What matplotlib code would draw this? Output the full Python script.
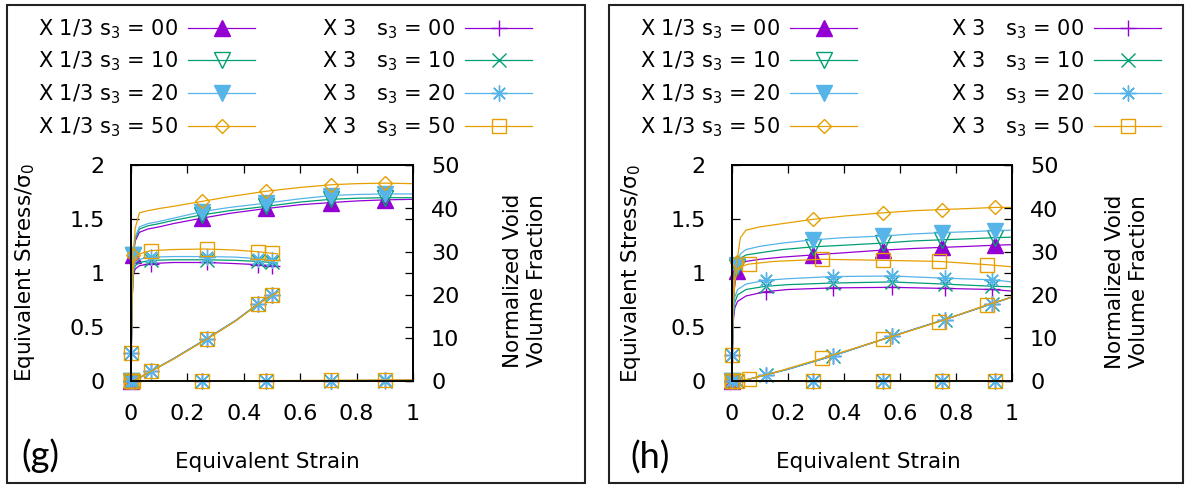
import matplotlib.pyplot as plt
from matplotlib.patches import Rectangle

W, H = 1186, 486

plt.rcParams['font.family'] = ['DejaVu Sans']
plt.rcParams['font.size'] = 15

colors = ['#9400d3', '#009e73', '#56b4e9', '#e69f00']

labels_13 = ['X 1/3 s$_\\mathregular{3}$ = 00', 'X 1/3 s$_\\mathregular{3}$ = 10',
             'X 1/3 s$_\\mathregular{3}$ = 20', 'X 1/3 s$_\\mathregular{3}$ = 50']
labels_3 = ['X 3   s$_\\mathregular{3}$ = 00', 'X 3   s$_\\mathregular{3}$ = 10',
            'X 3   s$_\\mathregular{3}$ = 20', 'X 3   s$_\\mathregular{3}$ = 50']

x_ticks = [0, 0.2, 0.4, 0.6, 0.8, 1]
x_ticklabels = ['0', '0.2', '0.4', '0.6', '0.8', '1']
y_ticks = [0, 0.5, 1, 1.5, 2]
y_ticklabels = ['0', '0.5', '1', '1.5', '2']
y2_ticks = [0, 10, 20, 30, 40, 50]
y2_ticklabels = ['0', '10', '20', '30', '40', '50']

# ---------------- panel (g) ----------------
g_strain_13 = [0, 0.003, 0.008, 0.015, 0.03, 0.06, 0.1, 0.15, 0.25, 0.35, 0.48, 0.6, 0.71, 0.8, 0.9, 1.0]
g_stress_13 = [
    [0, 0.80, 1.17, 1.30, 1.38, 1.41, 1.43, 1.46, 1.51, 1.555, 1.60, 1.635, 1.655, 1.67, 1.68, 1.685],
    [0, 0.82, 1.17, 1.32, 1.41, 1.44, 1.46, 1.49, 1.54, 1.58, 1.62, 1.66, 1.685, 1.695, 1.70, 1.70],
    [0, 0.84, 1.17, 1.34, 1.43, 1.46, 1.48, 1.51, 1.57, 1.61, 1.65, 1.69, 1.72, 1.73, 1.735, 1.735],
    [0, 0.90, 1.17, 1.42, 1.56, 1.58, 1.60, 1.62, 1.665, 1.71, 1.76, 1.795, 1.82, 1.83, 1.835, 1.83],
]
g_void_13 = [
    [0, 0, 0, 0, 0.01, 0.02, 0.03, 0.04, 0.06, 0.08, 0.1, 0.12, 0.14, 0.16, 0.18, 0.2],
    [0, 0, 0, 0, 0.01, 0.02, 0.03, 0.04, 0.06, 0.08, 0.1, 0.12, 0.14, 0.16, 0.18, 0.2],
    [0, 0, 0, 0, 0.01, 0.02, 0.03, 0.05, 0.07, 0.09, 0.12, 0.14, 0.17, 0.19, 0.21, 0.23],
    [0, 0, 0, 0, 0.01, 0.02, 0.04, 0.06, 0.09, 0.12, 0.16, 0.2, 0.24, 0.27, 0.3, 0.33],
]
g_mark_13 = [0, 2, 8, 10, 12, 14]

g_strain_3 = [0, 0.001, 0.004, 0.008, 0.015, 0.03, 0.07, 0.15, 0.27, 0.37, 0.45, 0.50, 0.52]
g_stress_3 = [
    [0, 0.26, 0.75, 0.98, 1.04, 1.07, 1.09, 1.10, 1.10, 1.09, 1.08, 1.07, 1.065],
    [0, 0.26, 0.76, 1.00, 1.07, 1.10, 1.12, 1.125, 1.125, 1.12, 1.11, 1.10, 1.095],
    [0, 0.26, 0.77, 1.02, 1.10, 1.13, 1.15, 1.155, 1.155, 1.15, 1.135, 1.125, 1.12],
    [0, 0.26, 0.80, 1.06, 1.15, 1.18, 1.21, 1.22, 1.225, 1.215, 1.20, 1.185, 1.18],
]
g_void_3 = [
    [0, 0, 0.05, 0.15, 0.35, 0.8, 2.3, 5.2, 9.9, 14.0, 17.9, 20.0, 20.7],
    [0, 0, 0.05, 0.15, 0.35, 0.8, 2.3, 5.2, 9.9, 14.0, 17.9, 20.0, 20.7],
    [0, 0, 0.05, 0.15, 0.35, 0.8, 2.3, 5.2, 9.9, 14.0, 17.9, 20.0, 20.7],
    [0, 0, 0.05, 0.15, 0.35, 0.8, 2.3, 5.1, 9.8, 13.9, 17.8, 19.9, 20.6],
]
g_mark_3 = [0, 1, 6, 8, 10, 11]

# ---------------- panel (h) ----------------
h_strain_13 = [0, 0.003, 0.008, 0.017, 0.03, 0.05, 0.1, 0.18, 0.29, 0.4, 0.54, 0.65, 0.75, 0.85, 0.94, 1.0]
h_stress_13 = [
    [0, 0.55, 0.85, 1.02, 1.08, 1.11, 1.13, 1.15, 1.17, 1.19, 1.215, 1.23, 1.24, 1.25, 1.26, 1.265],
    [0, 0.58, 0.92, 1.06, 1.14, 1.17, 1.19, 1.22, 1.245, 1.26, 1.28, 1.30, 1.31, 1.32, 1.33, 1.335],
    [0, 0.60, 0.95, 1.08, 1.18, 1.22, 1.25, 1.28, 1.31, 1.33, 1.345, 1.365, 1.376, 1.386, 1.395, 1.40],
    [0, 0.65, 1.00, 1.10, 1.33, 1.40, 1.43, 1.46, 1.50, 1.53, 1.56, 1.58, 1.59, 1.60, 1.61, 1.61],
]
h_void_13 = [
    [0, 0, 0, 0, 0.01, 0.01, 0.02, 0.03, 0.04, 0.05, 0.06, 0.07, 0.08, 0.09, 0.1, 0.1],
    [0, 0, 0, 0, 0.01, 0.01, 0.02, 0.03, 0.04, 0.05, 0.06, 0.07, 0.08, 0.09, 0.1, 0.1],
    [0, 0, 0, 0, 0.01, 0.01, 0.02, 0.03, 0.04, 0.05, 0.06, 0.07, 0.08, 0.09, 0.1, 0.11],
    [0, 0, 0, 0, 0.01, 0.01, 0.02, 0.03, 0.05, 0.06, 0.08, 0.09, 0.1, 0.11, 0.12, 0.13],
]
h_mark_13 = [0, 3, 8, 10, 12, 14]

h_strain_3 = [0, 0.001, 0.004, 0.01, 0.02, 0.05, 0.12, 0.2, 0.36, 0.57, 0.76, 0.93, 1.0]
h_strain_3_50 = [0, 0.001, 0.004, 0.01, 0.02, 0.04, 0.06, 0.15, 0.32, 0.54, 0.74, 0.91, 1.0]
h_stress_3 = [
    [0, 0.245, 0.55, 0.68, 0.74, 0.79, 0.83, 0.85, 0.865, 0.87, 0.86, 0.85, 0.835],
    [0, 0.245, 0.58, 0.73, 0.80, 0.85, 0.88, 0.895, 0.91, 0.92, 0.90, 0.88, 0.875],
    [0, 0.245, 0.60, 0.78, 0.85, 0.90, 0.935, 0.95, 0.97, 0.975, 0.955, 0.94, 0.92],
    [0, 0.245, 0.70, 0.92, 1.03, 1.07, 1.085, 1.11, 1.13, 1.12, 1.11, 1.08, 1.06],
]
h_void_3 = [
    [0, 0, 0.02, 0.05, 0.1, 0.3, 1.5, 2.8, 5.9, 10.4, 14.3, 18.0, 19.5],
    [0, 0, 0.02, 0.05, 0.1, 0.3, 1.5, 2.8, 5.9, 10.4, 14.3, 18.0, 19.5],
    [0, 0, 0.02, 0.05, 0.1, 0.3, 1.5, 2.8, 5.9, 10.4, 14.3, 18.0, 19.5],
    [0, 0, 0.02, 0.05, 0.1, 0.25, 0.5, 2.0, 5.3, 9.7, 13.8, 17.7, 19.5],
]
h_mark_3 = [0, 1, 6, 8, 9, 10, 11]

# marker styles: (marker, size, filled)
style_13 = [('^', 11, True), ('v', 11, False), ('v', 11, True), ('D', 7, False)]
style_3 = [('+', 11, False), ('x', 10, False), ((8, 2, 0), 11.5, False), ('s', 9.5, False)]


def mk(i, style):
    m, ms, filled = style[i]
    return dict(color=colors[i], lw=0.9, marker=m, ms=ms, mew=1.0,
                mfc=colors[i] if filled else 'none', mec=colors[i], clip_on=False)


def draw_panel(ax, s13, st13, v13, m13, s3, st3, v3, m3):
    ax2 = ax.twinx()
    handles_13, handles_3 = [], []
    for i in range(4):
        ln, = ax.plot(s13, st13[i], markevery=m13, **mk(i, style_13))
        handles_13.append(ln)
        ax2.plot(s13, v13[i], markevery=m13, **mk(i, style_3))
    for i in range(4):
        ln, = ax.plot(s3[i], st3[i], markevery=m3, **mk(i, style_3))
        handles_3.append(ln)
        ax2.plot(s3[i], v3[i], markevery=m3, **mk(i, style_3))
    ax.set_xlim(0, 1)
    ax.set_ylim(0, 2)
    ax2.set_ylim(0, 50)
    ax.set_xticks(x_ticks, x_ticklabels)
    ax.set_yticks(y_ticks, y_ticklabels)
    ax2.set_yticks(y2_ticks, y2_ticklabels)
    ax.tick_params(axis='x', direction='in', top=True, length=6, width=0.9, pad=16, labelsize=16)
    ax.tick_params(axis='y', direction='in', right=True, length=6, width=0.9, pad=19, labelsize=16)
    ax2.tick_params(axis='y', direction='in', length=6, width=0.9, pad=13, labelsize=16)
    for a in (ax, ax2):
        for sp in a.spines.values():
            sp.set_linewidth(1.3)
    return handles_13 + handles_3


fig = plt.figure(figsize=(W / 100, H / 100), dpi=100)

ax_g = fig.add_axes([131 / W, 1 - 381.3 / H, 282 / W, 216 / H])
ax_h = fig.add_axes([732 / W, 1 - 381.3 / H, 280 / W, 216 / H])

hg = draw_panel(ax_g, g_strain_13, g_stress_13, g_void_13, g_mark_13,
                [g_strain_3] * 4, g_stress_3, g_void_3, g_mark_3)
hh = draw_panel(ax_h, h_strain_13, h_stress_13, h_void_13, h_mark_13,
                [h_strain_3] * 3 + [h_strain_3_50], h_stress_3, h_void_3, h_mark_3)

for handles, x0, colsp in [(hg, 38, 3.2), (hh, 640, 4.5)]:
    fig.legend(handles, labels_13 + labels_3, loc='upper left',
               bbox_to_anchor=(x0 / W, 1 - 17 / H), ncol=2, markerfirst=False,
               frameon=False, fontsize=15, handlelength=3.2, handletextpad=0.5,
               columnspacing=colsp, labelspacing=0.44, borderpad=0, borderaxespad=0)

# axis titles
fig.text(25 / W, 1 - 273 / H, 'Equivalent Stress/σ$_\\mathregular{0}$', rotation=90,
         ha='center', va='center', fontsize=15.5)
fig.text(631 / W, 1 - 274 / H, 'Equivalent Stress/σ$_\\mathregular{0}$', rotation=90,
         ha='center', va='center', fontsize=15.5)
fig.text(525 / W, 1 - 281 / H, 'Normalized Void\nVolume Fraction', rotation=90,
         ha='center', va='center', fontsize=15.5, linespacing=1.25)
fig.text(1127 / W, 1 - 282 / H, 'Normalized Void\nVolume Fraction', rotation=90,
         ha='center', va='center', fontsize=15.5, linespacing=1.25)
fig.text(267 / W, 1 - 462 / H, 'Equivalent Strain', ha='center', va='center', fontsize=15.5)
fig.text(868 / W, 1 - 462 / H, 'Equivalent Strain', ha='center', va='center', fontsize=15.5)
fig.text(40 / W, 1 - 456 / H, '(g)', ha='center', va='center', fontsize=26, family='Lato')
fig.text(650 / W, 1 - 458 / H, '(h)', ha='center', va='center', fontsize=26, family='Lato')

# panel frames
for x0, x1 in [(7, 585), (609, 1183)]:
    fig.add_artist(Rectangle((x0 / W, 1 - 483 / H), (x1 - x0) / W, 478 / H,
                             transform=fig.transFigure, fill=False, lw=1.5, ec='#222222'))

fig.savefig('out.png', dpi=100)
